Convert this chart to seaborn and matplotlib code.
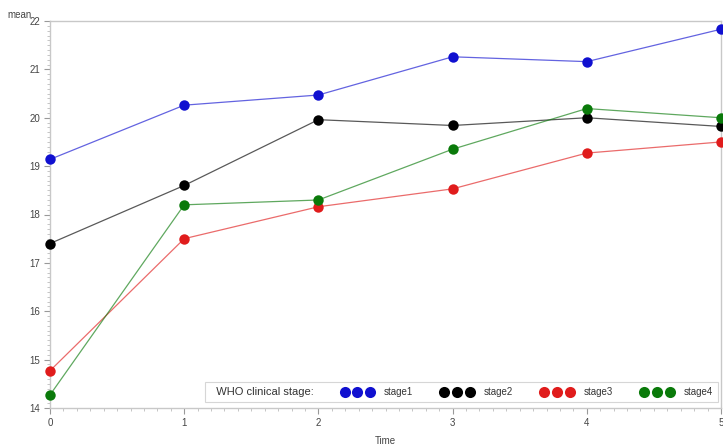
import matplotlib
matplotlib.use("Agg")
import matplotlib.pyplot as plt
from matplotlib.lines import Line2D
from matplotlib.ticker import MultipleLocator
import seaborn as sns
import pandas as pd

time = [0, 1, 2, 3, 4, 5]
stage1 = [19.14, 20.26, 20.47, 21.26, 21.16, 21.83]
stage2 = [17.40, 18.60, 19.96, 19.84, 20.00, 19.82]
stage3 = [14.77, 17.50, 18.16, 18.53, 19.27, 19.50]
stage4 = [14.27, 18.20, 18.30, 19.35, 20.19, 20.00]
stages = ["stage1", "stage2", "stage3", "stage4"]
colors = ["#1010d0", "#000000", "#e01c1c", "#0a7a0a"]

df = pd.DataFrame({
    "Time": time * 4,
    "mean": stage1 + stage2 + stage3 + stage4,
    "stage": sum([[s] * len(time) for s in stages], []),
})

sns.set_theme(style="white")
plt.rcParams["font.family"] = ["Liberation Sans", "DejaVu Sans"]

fig = plt.figure(figsize=(7.23, 4.46), dpi=100)
ax = fig.add_axes([50 / 723, 38 / 446, 671 / 723, 387 / 446])

palette = dict(zip(stages, colors))
sns.lineplot(data=df, x="Time", y="mean", hue="stage", palette=palette,
             linewidth=0.9, alpha=0.65, legend=False, ax=ax)
for s, c in zip(stages, colors):
    sub = df[df["stage"] == s]
    ax.plot(sub["Time"], sub["mean"], linestyle="none", marker="o",
            markersize=7.5, color=c, markeredgewidth=0, clip_on=False, zorder=5)

ax.set_xlim(0, 5)
ax.set_ylim(14, 22)
ax.xaxis.set_major_locator(MultipleLocator(1))
ax.xaxis.set_minor_locator(MultipleLocator(0.1))
ax.yaxis.set_major_locator(MultipleLocator(1))
ax.yaxis.set_minor_locator(MultipleLocator(0.1))
ax.tick_params(axis="both", which="major", direction="out", length=4, width=0.8,
               color="#999999", labelsize=7, labelcolor="#444444", pad=3,
               bottom=True, left=True)
ax.tick_params(axis="both", which="minor", direction="out", length=2, width=0.6,
               color="#bbbbbb", bottom=True, left=True)
for sp in ax.spines.values():
    sp.set_color("#c8c8c8")
    sp.set_linewidth(1.0)

ax.set_xlabel("Time", fontsize=7, color="#444444", labelpad=6)
ax.set_ylabel("")
fig.text(20 / 723, 1 - 15 / 446, "mean", fontsize=7, color="#444444",
         ha="center", va="center")

# Legend with its title placed on the same row as the entries
handles = [
    Line2D([], [], linestyle="none", marker="o", markersize=8, color=c,
           markeredgewidth=0) for c in colors
]
leg = ax.legend(handles, stages, ncol=4, numpoints=3, loc="lower right",
                bbox_to_anchor=(0.9955, 0.0155), borderaxespad=0, fontsize=7,
                frameon=True, fancybox=False, edgecolor="#cccccc",
                handlelength=3.27, handletextpad=1.1, columnspacing=2.9,
                borderpad=0.5, title="  WHO clinical stage:", title_fontsize=8)
leg.get_frame().set_linewidth(0.8)
box = leg.get_children()[0]
title_box, entries_box = box.get_children()
box._children = [entries_box]
entries_box._children = [title_box] + entries_box.get_children()
entries_box.align = "center"
for t in leg.get_texts():
    t.set_color("#333333")
leg.get_title().set_color("#333333")

fig.savefig("out.png", dpi=100)
